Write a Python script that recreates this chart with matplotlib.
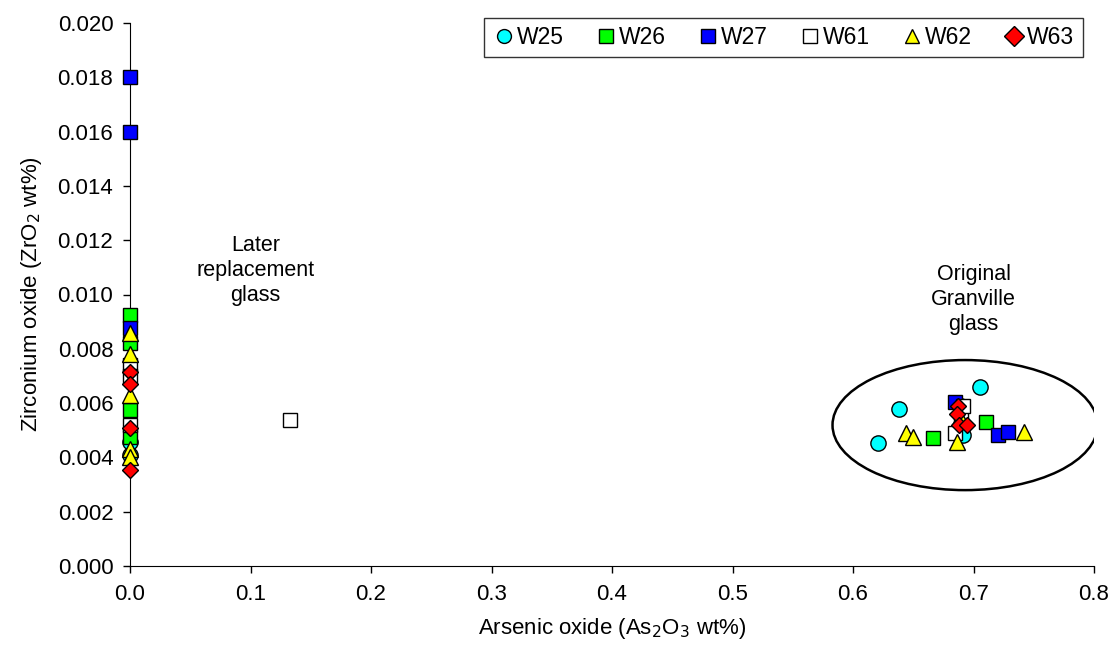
import numpy as np
import matplotlib.pyplot as plt
from matplotlib.patches import Ellipse

plt.rcParams['font.family'] = ['Liberation Sans', 'DejaVu Sans']

# data: arsenic oxide (x) and zirconium oxide (y), wt%
w25_x = [0.0, 0.0, 0.621, 0.638, 0.705, 0.691, 0.690]
w25_y = [0.00457, 0.0041, 0.00453, 0.00578, 0.00659, 0.00482, 0.0059]
w26_x = [0.0, 0.0, 0.0, 0.0, 0.666, 0.710]
w26_y = [0.00924, 0.0082, 0.00575, 0.00476, 0.00471, 0.0053]
w27_x = [0.0, 0.0, 0.0, 0.685, 0.720, 0.729]
w27_y = [0.018, 0.016, 0.00877, 0.00604, 0.00482, 0.00494]
w61_x = [0.0, 0.0, 0.0, 0.133, 0.685, 0.690, 0.691]
w61_y = [0.0074, 0.0070, 0.0052, 0.00537, 0.0049, 0.0056, 0.0059]
w62_x = [0.0, 0.0, 0.0, 0.0, 0.0, 0.644, 0.650, 0.686, 0.742, 0.689]
w62_y = [0.0086, 0.0078, 0.0063, 0.0043, 0.0040, 0.0049, 0.00475, 0.00457, 0.00494, 0.0055]
w63_x = [0.0, 0.0, 0.0, 0.0, 0.687, 0.686, 0.688, 0.695]
w63_y = [0.00715, 0.0067, 0.0051, 0.00354, 0.0059, 0.0056, 0.0052, 0.0052]

fig = plt.figure(figsize=(11.12, 6.55), dpi=100)
ax = fig.add_axes([130/1112, 89/655, 964/1112, 543/655])

ax.add_patch(Ellipse((0.693, 0.00519), 0.22, 0.00479, fill=False, ec='black', lw=1.8, zorder=1))

ec = 'black'
ax.plot(w25_x, w25_y, 'o', ms=11, mfc='#00FFFF', mec=ec, mew=1, ls='none', label='W25', zorder=3)
ax.plot(w26_x, w26_y, 's', ms=10, mfc='#00FF00', mec=ec, mew=1, ls='none', label='W26', zorder=3)
ax.plot(w27_x, w27_y, 's', ms=10, mfc='#0000FF', mec=ec, mew=1, ls='none', label='W27', zorder=3)
ax.plot(w61_x, w61_y, 's', ms=10, mfc='white', mec=ec, mew=1, ls='none', label='W61', zorder=3)
ax.plot(w62_x, w62_y, '^', ms=11, mfc='#FFFF00', mec=ec, mew=1, ls='none', label='W62', zorder=3)
ax.plot(w63_x, w63_y, 'D', ms=8, mfc='#FF0000', mec=ec, mew=1, ls='none', label='W63', zorder=3)

ax.set_xlim(0, 0.8)
ax.set_ylim(0, 0.020)
ax.set_xticks(np.arange(0, 0.81, 0.1))
ax.set_yticks(np.arange(0, 0.0201, 0.002))
ax.set_xticklabels(['%.1f' % v for v in np.arange(0, 0.81, 0.1)])
ax.set_yticklabels(['%.3f' % v for v in np.arange(0, 0.0201, 0.002)])
ax.tick_params(labelsize=16, direction='out', length=5, width=1)
ax.tick_params(axis='x', pad=8)
ax.tick_params(axis='y', pad=7)
ax.spines['top'].set_visible(False)
ax.spines['right'].set_visible(False)
for l in ax.lines:
    l.set_clip_on(False)

ax.set_xlabel('Arsenic oxide (As$_2$O$_3$ wt%)', fontsize=16, labelpad=8)
ax.set_ylabel('Zirconium oxide (ZrO$_2$ wt%)', fontsize=16, labelpad=10)

ax.text(0.104, 0.0109, 'Later\nreplacement\nglass', ha='center', va='center', fontsize=15.5, linespacing=1.25)
ax.text(0.70, 0.0098, 'Original\nGranville\nglass', ha='center', va='center', fontsize=15.5, linespacing=1.25)

leg = ax.legend(loc='upper right', ncol=6, fontsize=16.5, frameon=True, fancybox=False,
                edgecolor='black', handletextpad=0.1, columnspacing=1.3, handlelength=1.0,
                borderpad=0.35, bbox_to_anchor=(1.0, 1.03))
leg.get_frame().set_linewidth(1)
for h in leg.legend_handles:
    h.set_markersize(10)

plt.savefig('out.png')
